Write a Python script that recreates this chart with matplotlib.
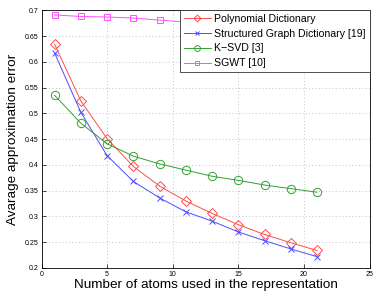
import numpy as np
import matplotlib
matplotlib.use("Agg")
import matplotlib.pyplot as plt

plt.rcParams["font.family"] = ["Liberation Sans", "DejaVu Sans"]

atoms = [1, 3, 5, 7, 9, 11, 13, 15, 17, 19, 21]
poly = [0.634, 0.524, 0.451, 0.397, 0.359, 0.330, 0.306, 0.284, 0.265, 0.249, 0.234]
sgd = [0.617, 0.502, 0.418, 0.368, 0.336, 0.309, 0.291, 0.270, 0.253, 0.237, 0.222]
ksvd = [0.535, 0.481, 0.441, 0.417, 0.402, 0.390, 0.378, 0.370, 0.361, 0.354, 0.347]
sgwt = [0.691, 0.688, 0.687, 0.685, 0.681, 0.677, 0.674, 0.671, 0.668, 0.665, 0.662]

labels = ["Polynomial Dictionary", "Structured Graph Dictionary [19]",
          "K\u2212SVD [3]", "SGWT [10]"]
colors = ["#ff4d4d", "#4d4dff", "#33a033", "#ff4dff"]
markers = ["D", "x", "o", "s"]
sizes = [5, 4, 6, 5]

fig = plt.figure(figsize=(3.82, 3.02), dpi=100)
ax = fig.add_axes([41.5 / 382, 1 - 268 / 302, 328 / 382, 257.7 / 302])

for vals, lab, c, m, s in zip([poly, sgd, ksvd, sgwt], labels, colors, markers, sizes):
    ax.plot(atoms, vals, color=c, marker=m, markersize=s, markerfacecolor="none",
            markeredgecolor=c, markeredgewidth=0.7, linewidth=0.7, label=lab)

ax.set_xlim(0, 25)
ax.set_ylim(0.2, 0.7)
ax.set_xticks(np.arange(0, 26, 5))
ax.set_yticks(np.arange(0.2, 0.701, 0.05))
ax.set_yticklabels(["0.2", "0.25", "0.3", "0.35", "0.4", "0.45", "0.5",
                    "0.55", "0.6", "0.65", "0.7"])
ax.tick_params(direction="in", labelsize=5, length=3, width=0.5, pad=2)
ax.grid(True, linestyle=(0, (1, 3)), color="#b0b0b0", linewidth=0.6)
for sp in ax.spines.values():
    sp.set_linewidth(0.6)

ax.set_xlabel("Number of atoms used in the representation", fontsize=9.7, labelpad=1)
ax.set_ylabel("Avarage approximation error", fontsize=9.7, labelpad=4)

leg = ax.legend(loc="upper right", fontsize=7.6, fancybox=False, framealpha=1,
                edgecolor="#333333", borderaxespad=0, handlelength=2.6,
                handletextpad=0.3, labelspacing=0.45, borderpad=0.35,
                markerscale=0.7)
leg.get_frame().set_linewidth(0.6)

fig.savefig("out.png", dpi=100)
